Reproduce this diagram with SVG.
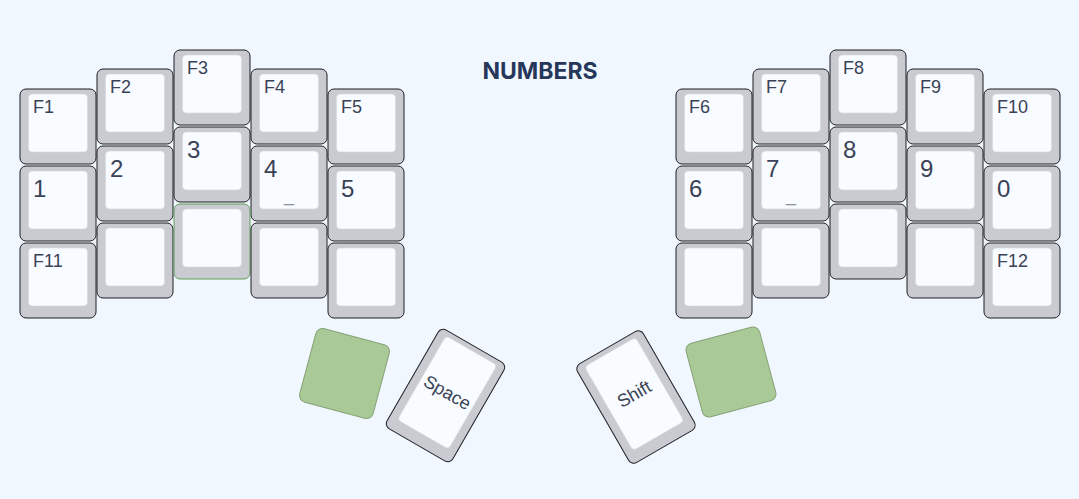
<svg xmlns="http://www.w3.org/2000/svg" width="1079" height="499" viewBox="0 0 1079 499">
<style>
.bg{fill:#f1f7fe}
.side{fill:#c9cbd1;stroke:#1d1f24;stroke-width:1}
.side.held{stroke:#5f9e52}
.face{fill:#f8fbff;stroke:#d6d8de;stroke-width:0.6}
.lbl{font-family:"Liberation Sans",Arial,sans-serif;fill:#3a4256}
.fn{font-size:18px}
.num{font-size:24px}
.hold{font-family:"Liberation Sans",Arial,sans-serif;font-size:18px;fill:#8c919c;text-anchor:middle}
.combo{fill:#a9ca97;stroke:#86a278;stroke-width:1}
.mid{text-anchor:middle}
.title{font-family:Inter,"Liberation Sans",sans-serif;font-weight:700;font-size:23px;fill:#27375a;text-anchor:middle}
</style>
<defs>
<g id="key">
<rect class="side" width="76" height="75" rx="6"/>
<rect class="face" x="8.5" y="5" width="59" height="58" rx="4"/>
</g>
</defs>
<rect class="bg" width="1079" height="499"/>
<text class="title" x="540" y="79">NUMBERS</text>

<!-- Left half -->
<g id="k-f1" transform="translate(20,89)"><use href="#key"/><text class="lbl fn" x="13" y="24">F1</text></g>
<g id="k-f2" transform="translate(97,69)"><use href="#key"/><text class="lbl fn" x="13" y="24">F2</text></g>
<g id="k-f3" transform="translate(174,50)"><use href="#key"/><text class="lbl fn" x="13" y="24">F3</text></g>
<g id="k-f4" transform="translate(251,69)"><use href="#key"/><text class="lbl fn" x="13" y="24">F4</text></g>
<g id="k-f5" transform="translate(328,89)"><use href="#key"/><text class="lbl fn" x="13" y="24">F5</text></g>

<g id="k-1" transform="translate(20,166)"><use href="#key"/><text class="lbl num" x="13" y="31">1</text></g>
<g id="k-2" transform="translate(97,146)"><use href="#key"/><text class="lbl num" x="13" y="31">2</text></g>
<g id="k-3" transform="translate(174,127)"><use href="#key"/><text class="lbl num" x="13" y="31">3</text></g>
<g id="k-4" transform="translate(251,146)"><use href="#key"/><text class="lbl num" x="13" y="31">4</text><text class="hold" x="38" y="55">_</text></g>
<g id="k-5" transform="translate(328,166)"><use href="#key"/><text class="lbl num" x="13" y="31">5</text></g>

<g id="k-f11" transform="translate(20,243)"><use href="#key"/><text class="lbl fn" x="13" y="24">F11</text></g>
<g id="k-l32" transform="translate(97,223)"><use href="#key"/></g>
<g id="k-l33" transform="translate(174,204)"><rect class="side held" width="76" height="75" rx="6"/><rect class="face" x="8.5" y="5" width="59" height="58" rx="4"/></g>
<g id="k-l34" transform="translate(251,223)"><use href="#key"/></g>
<g id="k-l35" transform="translate(328,243)"><use href="#key"/></g>

<!-- Right half -->
<g id="k-f6" transform="translate(676,89)"><use href="#key"/><text class="lbl fn" x="13" y="24">F6</text></g>
<g id="k-f7" transform="translate(753,69)"><use href="#key"/><text class="lbl fn" x="13" y="24">F7</text></g>
<g id="k-f8" transform="translate(830,50)"><use href="#key"/><text class="lbl fn" x="13" y="24">F8</text></g>
<g id="k-f9" transform="translate(907,69)"><use href="#key"/><text class="lbl fn" x="13" y="24">F9</text></g>
<g id="k-f10" transform="translate(984,89)"><use href="#key"/><text class="lbl fn" x="13" y="24">F10</text></g>

<g id="k-6" transform="translate(676,166)"><use href="#key"/><text class="lbl num" x="13" y="31">6</text></g>
<g id="k-7" transform="translate(753,146)"><use href="#key"/><text class="lbl num" x="13" y="31">7</text><text class="hold" x="38" y="55">_</text></g>
<g id="k-8" transform="translate(830,127)"><use href="#key"/><text class="lbl num" x="13" y="31">8</text></g>
<g id="k-9" transform="translate(907,146)"><use href="#key"/><text class="lbl num" x="13" y="31">9</text></g>
<g id="k-0" transform="translate(984,166)"><use href="#key"/><text class="lbl num" x="13" y="31">0</text></g>

<g id="k-r31" transform="translate(676,243)"><use href="#key"/></g>
<g id="k-r32" transform="translate(753,223)"><use href="#key"/></g>
<g id="k-r33" transform="translate(830,204)"><use href="#key"/></g>
<g id="k-r34" transform="translate(907,223)"><use href="#key"/></g>
<g id="k-f12" transform="translate(984,243)"><use href="#key"/><text class="lbl fn" x="13" y="24">F12</text></g>

<!-- Thumbs -->
<g id="k-lt1" transform="translate(344.5,373.5) rotate(15)"><rect class="combo" x="-38" y="-38" width="76" height="76" rx="7"/></g>
<g id="k-space" transform="translate(445.5,395.5) rotate(30)">
<rect class="side" x="-38" y="-57" width="76" height="114" rx="6"/>
<rect class="face" x="-29.5" y="-52" width="59" height="97" rx="4"/>
<text class="lbl fn mid" x="0" y="2.5">Space</text>
</g>
<g id="k-shift" transform="translate(636,397) rotate(-30)">
<rect class="side" x="-38" y="-57" width="76" height="114" rx="6"/>
<rect class="face" x="-29.5" y="-52" width="59" height="97" rx="4"/>
<text class="lbl fn mid" x="0" y="2.5">Shift</text>
</g>
<g id="k-rt1" transform="translate(731,372) rotate(-15)"><rect class="combo" x="-38" y="-38" width="76" height="76" rx="7"/></g>

<g id="connectors"></g>
</svg>
